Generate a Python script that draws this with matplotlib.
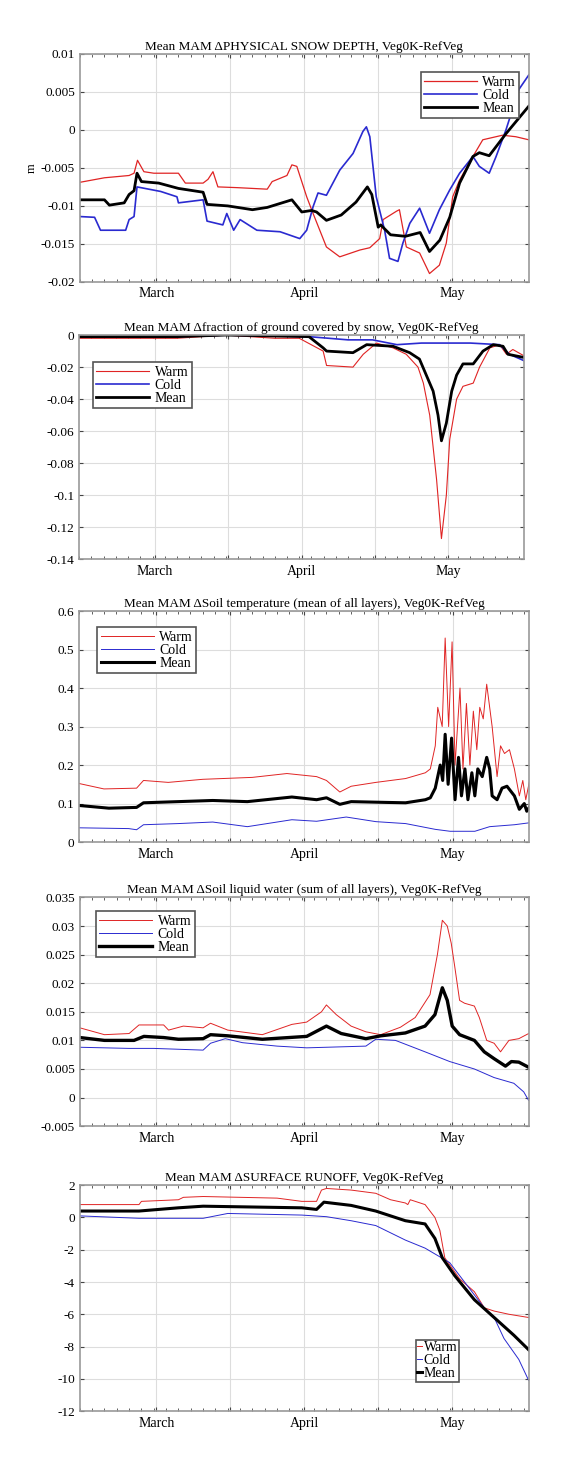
import matplotlib
matplotlib.use("Agg")
import matplotlib.pyplot as plt
import numpy as np

plt.rcParams['font.family'] = ['Liberation Serif', 'DejaVu Serif']
plt.rcParams['font.size'] = 9

# ---- Panel 1: physical snow depth (m) ----
p1_warm_x = [0,5,10,11,11.7,13,15,20,21.4,25,26,27,28,32,38,39,42,43,44,46,47.3,50,52.7,56.8,58.8,60.8,61.5,64.2,64.8,66.2,68.9,70.9,72.9,74.3,75.6,77,79.7,81.7,85.7,88.4,91]
p1_warm_y = [-0.0069,-0.0063,-0.006,-0.0057,-0.004,-0.0055,-0.0057,-0.0057,-0.007,-0.007,-0.0065,-0.0055,-0.0075,-0.0076,-0.0078,-0.0068,-0.006,-0.0046,-0.0048,-0.0088,-0.011,-0.0154,-0.0167,-0.0158,-0.0155,-0.0143,-0.0118,-0.0107,-0.0105,-0.0154,-0.0162,-0.0189,-0.0178,-0.0149,-0.0088,-0.0066,-0.0035,-0.0013,-0.0007,-0.0009,-0.0013]
p1_cold_x = [0,3,4.2,9.3,10,11,11.6,16.4,19.7,20,25,25.8,29,29.8,31.2,32.5,35.9,40.6,44.6,46,47.3,48.3,50,52.7,55.4,57.4,58.1,58.8,60.1,61.8,62.8,64.5,65.5,66.9,68.9,70.9,72.9,75,77,79.7,81,83,84.4,86.4,89,91]
p1_cold_y = [-0.0114,-0.0115,-0.0132,-0.0132,-0.0118,-0.0114,-0.0075,-0.0081,-0.0088,-0.0096,-0.0092,-0.012,-0.0125,-0.011,-0.0132,-0.0118,-0.0132,-0.0134,-0.0143,-0.0132,-0.0101,-0.0083,-0.0086,-0.0053,-0.0031,-0.0002,0.0004,-0.0009,-0.0088,-0.0132,-0.0169,-0.0173,-0.0149,-0.0123,-0.0103,-0.0136,-0.0105,-0.0079,-0.0057,-0.0035,-0.0048,-0.0057,-0.0035,0.0,0.0053,0.0072]
p1_mean_x = [0,5,6,9,10,11,11.6,12.5,16,20,25,25.8,30,35,38,43,45,47,48,50,53,56,58.3,59.2,60.5,61,63,66,69,70.9,73,75,77,79.7,81,83,86.4,91]
p1_mean_y = [-0.0092,-0.0092,-0.0099,-0.0096,-0.0085,-0.008,-0.0057,-0.0068,-0.007,-0.0077,-0.0082,-0.0098,-0.01,-0.0105,-0.0102,-0.0092,-0.0108,-0.0106,-0.0108,-0.0119,-0.0112,-0.0095,-0.0075,-0.0085,-0.0128,-0.0125,-0.0138,-0.014,-0.0135,-0.016,-0.0145,-0.0115,-0.007,-0.0035,-0.003,-0.0034,-0.0005,0.0031]

# ---- Panel 2: fraction of ground covered by snow ----
p2_warm_x = [0,10,20,30,40,45,49.9,50.6,56,58.1,60.8,64.2,66.9,69.3,70.4,71.7,73.1,74.1,75.1,75.8,77.2,78.5,80.6,81.9,84,86,87.4,88.7,91]
p2_warm_y = [-0.002,-0.002,-0.002,0.0,-0.002,-0.002,-0.010,-0.019,-0.020,-0.012,-0.005,-0.008,-0.012,-0.020,-0.030,-0.050,-0.090,-0.127,-0.100,-0.065,-0.040,-0.032,-0.030,-0.020,-0.008,-0.006,-0.012,-0.009,-0.013]
p2_cold_x = [0,20,30,47,55,60,65,70,80,86,88,91]
p2_cold_y = [-0.001,-0.001,0.0,-0.001,-0.003,-0.003,-0.006,-0.005,-0.005,-0.006,-0.012,-0.016]
p2_mean_x = [0,20,30,47,49.9,50.6,56,58.8,64.2,67.6,69.6,71,72.4,73.4,74.1,75.1,76.2,77.2,78.5,80.6,82.6,84.7,86.7,87.7,91]
p2_mean_y = [-0.001,-0.001,0.0,-0.001,-0.008,-0.010,-0.011,-0.006,-0.007,-0.011,-0.015,-0.025,-0.035,-0.050,-0.066,-0.055,-0.035,-0.025,-0.018,-0.018,-0.010,-0.006,-0.007,-0.012,-0.014]

# ---- Panel 3: soil temperature ----
p3_warm_x = [0,5,11.6,13,18,25,35,42,48,50,52.7,55,60,66,70,71,72,72.5,73.4,74,74.7,75.4,76,77,77.6,78.3,79,79.7,80.4,81,81.7,82.4,83,83.5,84.5,85.2,86,87,88,89,89.7,90.3,91]
p3_warm_y = [0.152,0.138,0.14,0.16,0.155,0.163,0.168,0.178,0.17,0.16,0.13,0.145,0.155,0.165,0.18,0.19,0.25,0.35,0.30,0.53,0.30,0.52,0.20,0.40,0.19,0.36,0.20,0.34,0.24,0.35,0.32,0.41,0.35,0.30,0.17,0.25,0.23,0.24,0.19,0.12,0.16,0.11,0.155]
p3_cold_x = [0,10,11.6,13,20,27,34,43,48,54,60,66,72,75,80,83,88,91]
p3_cold_y = [0.037,0.035,0.032,0.045,0.048,0.052,0.04,0.058,0.054,0.065,0.053,0.048,0.033,0.028,0.028,0.04,0.045,0.05]
p3_mean_x = [0,6,11.6,13,20,27,34,43,48,50,52.7,55,62,66,70,71,72,73,73.5,74,74.6,75.3,76,76.7,77.3,78,78.6,79.4,80,80.6,81.5,82.4,83,83.5,84.5,85.5,86.5,88,89,90,90.5,91]
p3_mean_y = [0.095,0.088,0.09,0.102,0.105,0.108,0.105,0.117,0.11,0.115,0.098,0.105,0.103,0.102,0.11,0.115,0.14,0.20,0.16,0.28,0.15,0.27,0.11,0.22,0.12,0.19,0.11,0.18,0.12,0.19,0.17,0.22,0.19,0.12,0.11,0.14,0.145,0.12,0.085,0.10,0.08,0.09]

# ---- Panel 4: soil liquid water ----
p4_warm_x = [0,5,10,12,17,18,21,25,26.5,30,37,43,46,49,50,52,55,58,61,65,68,71,72.5,73.5,74.5,75.3,76,77,78,80,81,82.5,84,85.3,87,89,91]
p4_warm_y = [0.0122,0.011,0.0112,0.0127,0.0127,0.0118,0.0125,0.0122,0.013,0.0118,0.011,0.0128,0.0132,0.015,0.0162,0.0145,0.0125,0.0115,0.011,0.0123,0.014,0.018,0.025,0.031,0.030,0.027,0.023,0.017,0.0165,0.016,0.014,0.010,0.0095,0.008,0.010,0.0103,0.0112]
p4_cold_x = [0,10,15,25,26.5,29.5,33,40,46,50,58,60,64,70,75,80,84,88,90,91]
p4_cold_y = [0.0088,0.0086,0.0086,0.0083,0.0095,0.0103,0.0096,0.009,0.0087,0.0088,0.009,0.0102,0.01,0.008,0.0063,0.005,0.0035,0.0025,0.001,-0.0005]
p4_mean_x = [0,5,11,13,17,20,25,26.5,30,37,46,50,53,58,61,66,70,72,73.5,74.5,75.5,77,80,82,84,86.3,87.5,89,91]
p4_mean_y = [0.0105,0.01,0.01,0.0107,0.0105,0.0102,0.0103,0.011,0.0108,0.0102,0.0107,0.0125,0.0112,0.0103,0.0108,0.0113,0.0125,0.0145,0.0192,0.017,0.0125,0.011,0.01,0.008,0.0068,0.0055,0.0063,0.0062,0.0053]

# ---- Panel 5: surface runoff ----
p5_warm_x = [0,12,12.5,20,21,25,40,45,48,49,50,55,60,63,66,66.5,67,70,72,73,74,77,80,82,84,87,91]
p5_warm_y = [0.8,0.8,1.0,1.1,1.25,1.3,1.2,1.0,1.0,1.7,1.8,1.7,1.5,1.1,0.9,0.8,1.1,0.8,0.0,-0.8,-2.5,-3.8,-4.6,-5.6,-5.8,-6.0,-6.2]
p5_cold_x = [0,12,25,30,45,50,55,60,66,70,75,77,80,82,84,86,89,91]
p5_cold_y = [0.1,-0.05,-0.05,0.25,0.15,0.05,-0.2,-0.5,-1.4,-1.9,-2.8,-3.6,-4.8,-5.6,-6.2,-7.5,-8.8,-10.1]
p5_mean_x = [0,12,20,25,45,48,49.5,55,60,66,70,72,73.5,76,80,84,88,91]
p5_mean_y = [0.4,0.4,0.6,0.7,0.6,0.5,0.95,0.75,0.4,-0.2,-0.4,-1.3,-2.5,-3.6,-5.1,-6.2,-7.3,-8.2]

titles = [
    "Mean MAM \u0394PHYSICAL SNOW DEPTH, Veg0K-RefVeg",
    "Mean MAM \u0394fraction of ground covered by snow, Veg0K-RefVeg",
    "Mean MAM \u0394Soil temperature (mean of all layers), Veg0K-RefVeg",
    "Mean MAM \u0394Soil liquid water (sum of all layers), Veg0K-RefVeg",
    "Mean MAM \u0394SURFACE RUNOFF, Veg0K-RefVeg",
]
grid_pos = [15.5, 30.5, 45.5, 60.5, 75.5]
grid_labels = ["March", "", "April", "", "May"]

panels = [
    (p1_warm_x, p1_warm_y, p1_cold_x, p1_cold_y, p1_mean_x, p1_mean_y),
    (p2_warm_x, p2_warm_y, p2_cold_x, p2_cold_y, p2_mean_x, p2_mean_y),
    (p3_warm_x, p3_warm_y, p3_cold_x, p3_cold_y, p3_mean_x, p3_mean_y),
    (p4_warm_x, p4_warm_y, p4_cold_x, p4_cold_y, p4_mean_x, p4_mean_y),
    (p5_warm_x, p5_warm_y, p5_cold_x, p5_cold_y, p5_mean_x, p5_mean_y),
]
ylims = [(-0.02, 0.01), (-0.14, 0.0), (0, 0.6), (-0.005, 0.035), (-12, 2)]
yticks = [
    ([-0.02, -0.015, -0.01, -0.005, 0, 0.005, 0.01], ["-0.02", "-0.015", "-0.01", "-0.005", "0", "0.005", "0.01"]),
    ([-0.14, -0.12, -0.1, -0.08, -0.06, -0.04, -0.02, 0], ["-0.14", "-0.12", "-0.1", "-0.08", "-0.06", "-0.04", "-0.02", "0"]),
    ([0, 0.1, 0.2, 0.3, 0.4, 0.5, 0.6], ["0", "0.1", "0.2", "0.3", "0.4", "0.5", "0.6"]),
    ([-0.005, 0, 0.005, 0.01, 0.015, 0.02, 0.025, 0.03, 0.035], ["-0.005", "0", "0.005", "0.01", "0.015", "0.02", "0.025", "0.03", "0.035"]),
    ([-12, -10, -8, -6, -4, -2, 0, 2], ["-12", "-10", "-8", "-6", "-4", "-2", "0", "2"]),
]
rects = [
    [0.139, 0.809, 0.782, 0.1545],
    [0.138, 0.621, 0.775, 0.152],
    [0.138, 0.4295, 0.784, 0.1565],
    [0.139, 0.237, 0.782, 0.155],
    [0.139, 0.044, 0.782, 0.153],
]
legend_opts = [
    dict(loc="upper right", bbox_to_anchor=(0.995, 0.95), handlelength=3.8, labelspacing=0.0, borderpad=0.25, handletextpad=0.4),
    dict(loc="upper left", bbox_to_anchor=(0.015, 0.91), handlelength=3.8, labelspacing=0.0, borderpad=0.25, handletextpad=0.4),
    dict(loc="upper left", bbox_to_anchor=(0.025, 0.96), handlelength=3.8, labelspacing=0.0, borderpad=0.25, handletextpad=0.4),
    dict(loc="upper left", bbox_to_anchor=(0.02, 0.97), handlelength=3.8, labelspacing=0.0, borderpad=0.25, handletextpad=0.4),
    dict(loc="lower right", bbox_to_anchor=(0.86, 0.10), handlelength=0.4, handletextpad=0.1, borderpad=0.1, labelspacing=0.0),
]
legend_fs = [10, 10, 10, 10, 10]
lw_sets = [(0.9, 1.2, 2.0), (0.8, 1.2, 2.0), (0.7, 0.7, 2.2), (0.7, 0.7, 2.4), (0.7, 0.7, 2.2)]

RED = "#e02424"
BLUE = "#2a2ad0"

fig = plt.figure(figsize=(5.74, 14.76), dpi=100)
for i in range(5):
    ax = fig.add_axes(rects[i])
    wx, wy, cx, cy, mx, my = panels[i]
    lw_w, lw_c, lw_m = lw_sets[i]
    ax.plot(wx, wy, color=RED, lw=lw_w, label="Warm")
    ax.plot(cx, cy, color=BLUE, lw=lw_c, label="Cold")
    ax.plot(mx, my, color="black", lw=lw_m, label="Mean")
    ax.set_xlim(0, 91)
    ax.set_ylim(*ylims[i])
    ax.set_yticks(yticks[i][0])
    ax.set_yticklabels(yticks[i][1])
    ax.set_xticks(grid_pos)
    ax.set_xticklabels(grid_labels)
    ax.set_xticks(np.arange(0, 91, 2.5), minor=True)
    ax.grid(True, color="#dddddd", lw=0.8)
    ax.set_axisbelow(True)
    ax.tick_params(direction="in", top=True, right=True, length=3, labelsize=9.5, color="#444444")
    ax.tick_params(which="minor", direction="in", top=True, length=2, color="#444444")
    ax.tick_params(axis="x", pad=4, labelsize=10)
    for s in ax.spines.values():
        s.set_color("#999999")
        s.set_linewidth(1.2)
    ax.set_title(titles[i], fontsize=9.5, pad=3)
    opts = dict(fontsize=legend_fs[i], frameon=True, fancybox=False, edgecolor="#555555", framealpha=1)
    opts.update(legend_opts[i])
    leg = ax.legend(**opts)
    leg.get_frame().set_linewidth(1.2)
    if i == 0:
        ax.set_ylabel("m", fontsize=9, labelpad=2)

fig.savefig("out.png", dpi=100)
